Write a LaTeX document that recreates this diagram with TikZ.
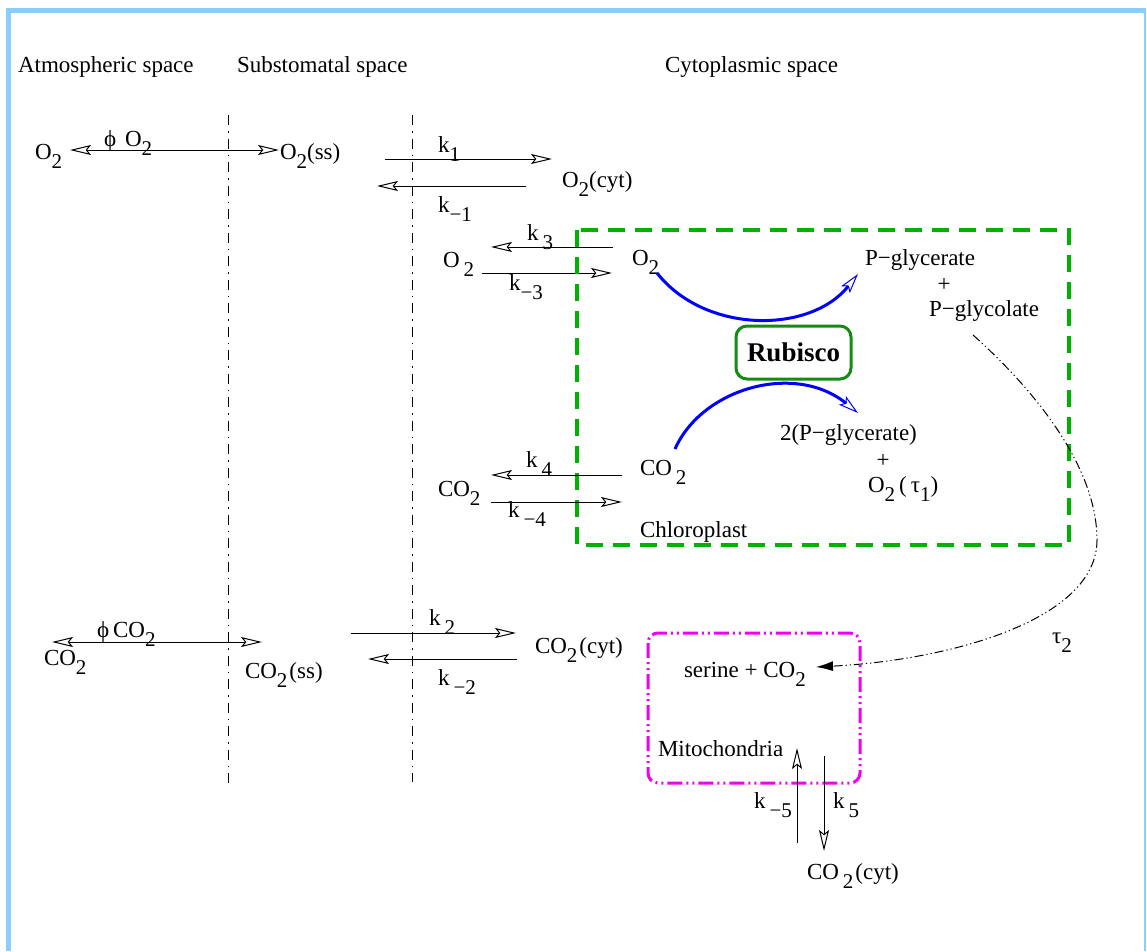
\documentclass[tikz,border=0pt]{standalone}
\usepackage{fontspec}
\setmainfont{Liberation Serif}
\usetikzlibrary{arrows.meta}
\definecolor{frameblue}{RGB}{138,206,252}
\definecolor{chlgreen}{RGB}{0,178,0}
\definecolor{rubgreen}{RGB}{20,140,20}
\definecolor{mitomag}{RGB}{240,0,240}
\newcommand\sbs[1]{\raisebox{-9pt}{\fontsize{21}{21}\selectfont #1}}
\newcommand\gp{\hspace{4pt}}
\begin{document}
\begin{tikzpicture}[x=1pt,y=-1pt,
  txt/.style={anchor=base west,inner sep=0pt,outer sep=0pt,font=\fontsize{23}{27}\selectfont},
  ctxt/.style={anchor=center,inner sep=0pt,outer sep=0pt,font=\fontsize{23}{27}\selectfont},
  flow/.style={line width=1pt,-{Stealth[open,length=21pt,width=10pt,inset=4pt]}},
  both/.style={line width=1pt,{Stealth[open,length=21pt,width=10pt,inset=4pt]}-{Stealth[open,length=21pt,width=10pt,inset=4pt]}},
  boundary/.style={line width=1pt,dash pattern=on 10pt off 6pt on 1.5pt off 6pt},
  react/.style={line width=3pt,blue,-{Stealth[open,length=20pt,width=11pt,inset=4pt,line width=1pt]}},
  chlbox/.style={draw=chlgreen,line width=3.5pt,dash pattern=on 17pt off 10pt},
  mitobox/.style={draw=mitomag,line width=3pt,rounded corners=10pt,dash pattern=on 15pt off 4pt on 2pt off 4pt on 2pt off 4pt},
  tauflow/.style={line width=1pt,dash pattern=on 9pt off 3pt on 1.2pt off 3pt on 1.2pt off 3pt,-{Latex[length=17pt,width=10pt]}},
]
\useasboundingbox (0,0) rectangle (1147,951);
% frame
\draw[frameblue,line width=5pt] (8.5,951) -- (8.5,10.5) -- (1146,10.5);
\draw[frameblue,line width=1.5pt] (1145,10) -- (1145,951);

% headers
\node[txt] (hatm) at (18,72) {Atmospheric space};
\node[txt] (hsub) at (237,72) {Substomatal space};
\node[txt] (hcyt) at (665,72) {Cytoplasmic space};

% boundaries
\coordinate (b1t) at (228,115); \coordinate (b1b) at (228,787);
\coordinate (b2t) at (412,115); \coordinate (b2b) at (412,782);
\draw[boundary] (b1t) -- (b1b);
\draw[boundary] (b2t) -- (b2b);

% O2 row
\node[txt] (o2atm) at (35,159) {O\sbs{2}};
\node[txt] (phio2) at (104,146) {ϕ\hspace{9pt}O\sbs{2}};
\node[txt] (o2ss) at (280,159) {O\sbs{2}(ss)};
\coordinate (pa1) at (70,150); \coordinate (pa2) at (279,150);
\draw[both] (pa1) -- (pa2);

\coordinate (k1a) at (385,159); \coordinate (k1b) at (552,159);
\draw[flow] (k1a) -- (k1b);
\node[txt] (k1) at (438,152) {k\sbs{1}};
\coordinate (km1a) at (526,186); \coordinate (km1b) at (377,186);
\draw[flow] (km1a) -- (km1b);
\node[txt] (km1) at (438,212) {k\sbs{−1}};
\node[txt] (o2cyt) at (562,187) {O\sbs{2}(cyt)};

% O2 exchange with chloroplast
\coordinate (k3a) at (613,247); \coordinate (k3b) at (491,247);
\draw[flow] (k3a) -- (k3b);
\node[txt] (k3) at (527,240) {k\gp\sbs{3}};
\node[txt] (o2c) at (443,267) {O\gp\sbs{2}};
\coordinate (km3a) at (482,273); \coordinate (km3b) at (612,273);
\draw[flow] (km3a) -- (km3b);
\node[txt] (km3) at (509,290) {k\sbs{−3}};

% chloroplast
\coordinate (chlA) at (577,230); \coordinate (chlB) at (1069,545);
\draw[chlbox] (chlA) rectangle (chlB);
\node[txt] (o2in) at (632,265) {O\sbs{2}};
\node[txt] (pgly) at (865,265) {P−glycerate};
\node[ctxt] (plus1) at (944,285) {+};
\node[txt] (pglyc) at (929,316) {P−glycolate};
\node[draw=rubgreen,line width=3pt,rounded corners=11pt,minimum width=115pt,minimum height=53pt,inner sep=0pt,font=\fontsize{27}{30}\selectfont\bfseries] (rub) at (793.5,352.5) {Rubisco};
\coordinate (r1a) at (657,273); \coordinate (r1b) at (858,274);
\draw[react] (r1a) .. controls (705,334) and (810,334) .. (r1b);
\coordinate (r2a) at (675,449); \coordinate (r2b) at (858,413);
\draw[react] (r2a) .. controls (702,388) and (795,362) .. (r2b);
\node[txt] (twopg) at (780,440) {2(P−glycerate)};
\node[ctxt] (plus2) at (883,461) {+};
\node[txt] (o2tau) at (868,492) {O\sbs{2}\hspace{4pt}(\hspace{4pt}τ\sbs{1})};
\node[txt] (co2in) at (640,475) {CO\gp\sbs{2}};
\node[txt] (chl) at (640,537) {Chloroplast};

% CO2 exchange with chloroplast
\coordinate (k4a) at (622,475); \coordinate (k4b) at (491,475);
\draw[flow] (k4a) -- (k4b);
\node[txt] (k4) at (526,467) {k\gp\sbs{4}};
\node[txt] (co2c) at (438,496) {CO\sbs{2}};
\coordinate (km4a) at (491,502); \coordinate (km4b) at (622,502);
\draw[flow] (km4a) -- (km4b);
\node[txt] (km4) at (508,517) {k\gp\sbs{−4}};

% CO2 row
\coordinate (pc1) at (52,642); \coordinate (pc2) at (262,642);
\draw[both] (pc1) -- (pc2);
\node[txt] (phico2) at (97,637) {ϕ\hspace{4pt}CO\sbs{2}};
\node[txt] (co2atm) at (44,665) {CO\sbs{2}};
\node[txt] (co2ss) at (245,678) {CO\sbs{2}\hspace{2pt}(ss)};
\coordinate (k2a) at (351,633); \coordinate (k2b) at (516,633);
\draw[flow] (k2a) -- (k2b);
\node[txt] (k2) at (429,625) {k\gp\sbs{2}};
\coordinate (km2a) at (517,659); \coordinate (km2b) at (368,659);
\draw[flow] (km2a) -- (km2b);
\node[txt] (km2) at (438,685) {k\gp\sbs{−2}};
\node[txt] (co2cyt) at (535,653) {CO\sbs{2}\hspace{2pt}(cyt)};

% mitochondria
\coordinate (miA) at (648,633); \coordinate (miB) at (860,783);
\draw[mitobox] (miA) rectangle (miB);
\node[txt] (ser) at (684,677) {serine + CO\sbs{2}};
\node[txt] (mito) at (658,756) {Mitochondria};
\coordinate (k5a) at (824,756); \coordinate (k5b) at (824,851);
\draw[flow] (k5a) -- (k5b);
\coordinate (km5a) at (797,843); \coordinate (km5b) at (797,748);
\draw[flow] (km5a) -- (km5b);
\node[txt] (km5) at (754,808) {k\gp\sbs{−5}};
\node[txt] (k5) at (833,808) {k\gp\sbs{5}};
\node[txt] (co2out) at (807,879) {CO\gp\sbs{2}\hspace{2pt}(cyt)};

% tau2 transfer
\coordinate (t1) at (973,335); \coordinate (tm) at (1097,540); \coordinate (t2) at (816,667);
\draw[tauflow] (t1) .. controls (1040,395) and (1097,470) .. (tm) .. controls (1097,620) and (950,660) .. (t2);
\node[txt] (tau2) at (1052,643) {τ\sbs{2}};
\end{tikzpicture}
\end{document}
